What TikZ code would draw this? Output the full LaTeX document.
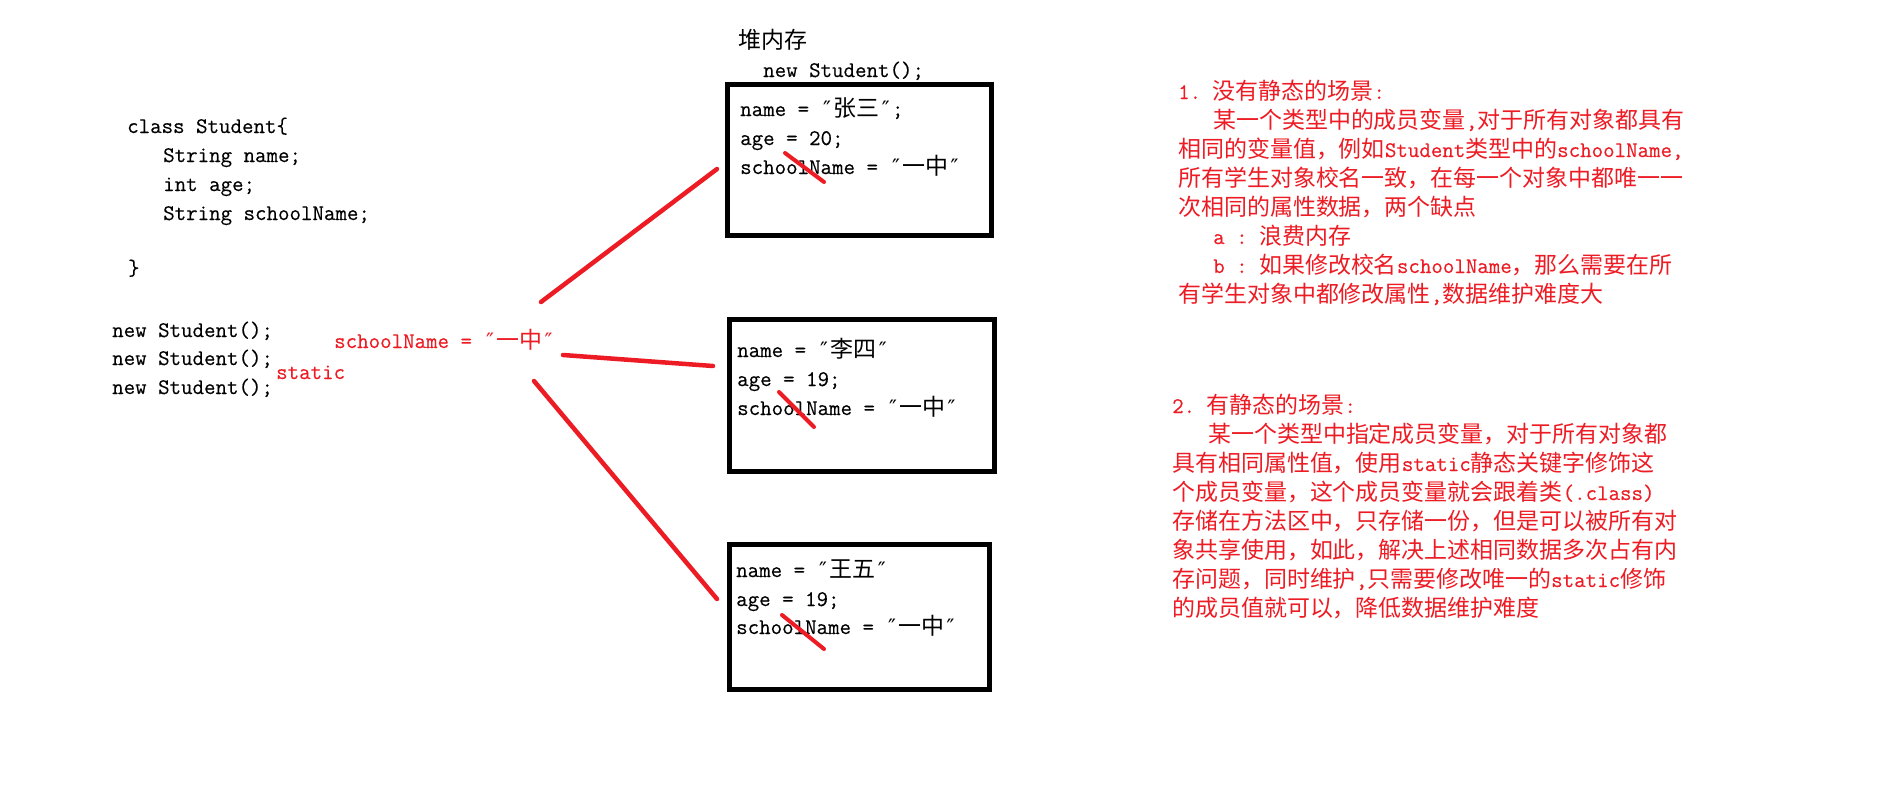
\documentclass[tikz,border=0pt]{standalone}
\usepackage{fontspec}
\setmonofont{lmmono12-regular.otf}[FakeBold=0.3]
\newfontfamily\cjk[Scale=1.03]{Noto Sans CJK SC}
\newfontfamily\qf[Scale=0.95]{DejaVu Sans Mono}
\XeTeXinterchartokenstate=1
\chardef\cjkcls=7
\newcount\cjkc
\def\setcjkrange#1#2{\cjkc=#1\relax\loop\XeTeXcharclass\cjkc=\cjkcls\relax\ifnum\cjkc<#2\relax\advance\cjkc by 1\relax\repeat}
\setcjkrange{"3000}{"303F}
\setcjkrange{"4E00}{"9FFF}
\setcjkrange{"FF00}{"FFEF}
\XeTeXinterchartoks 0 \cjkcls = {\cjk}
\XeTeXinterchartoks 4095 \cjkcls = {\cjk}
\XeTeXinterchartoks \cjkcls 0 = {\ttfamily}
\XeTeXinterchartoks \cjkcls 4095 = {\ttfamily}
\newcommand\dq{\hbox{\qf ″}}
\definecolor{myred}{RGB}{237,28,36}
\begin{document}
\begin{tikzpicture}[x=1pt,y=-1pt,
  txt/.style={anchor=base west, inner sep=0pt, font=\ttfamily\fontsize{22.3}{29}\selectfont},
  rtxt/.style={txt, text=myred},
  box/.style={draw=black, line width=5pt, inner sep=0pt},
  link/.style={draw=myred, line width=4.5pt, line cap=round},
  strike/.style={draw=myred, line width=4pt, line cap=round}]
\useasboundingbox[fill=white] (0,0) rectangle (1895,787);

% class definition
\node[txt] (c1) at (127,133) {class Student\{};
\node[txt] (c2) at (163,162) {String name;};
\node[txt] (c3) at (163,191) {int age;};
\node[txt] (c4) at (163,220) {String schoolName;};
\node[txt] (c5) at (128,275) {\}};
\node[txt] (n1) at (112,337) {new Student();};
\node[txt] (n2) at (112,365) {new Student();};
\node[txt] (n3) at (112,394) {new Student();};
\node[rtxt] (sn) at (334,348) {schoolName = \dq 一中\dq};
\node[rtxt] (st) at (276,379) {static};

% heap
\node[txt] (heap) at (738,48) {堆内存};
\node[txt] (hnew) at (763,77) {new Student();};

\node[box, minimum width=264pt, minimum height=151pt] (box1) at (859,159.5) {};
\node[box, minimum width=265pt, minimum height=152pt] (box2) at (861.5,395) {};
\node[box, minimum width=260pt, minimum height=145pt] (box3) at (859,616.5) {};

\node[txt] (a1) at (740,116) {name = \dq 张三\dq;};
\node[txt] (a2) at (740,145) {age = 20;};
\node[txt] (a3) at (740,174) {schoolName = \dq 一中\dq};
\node[txt] (b1) at (737,357) {name = \dq 李四\dq};
\node[txt] (b2) at (737,386) {age = 19;};
\node[txt] (b3) at (737,415) {schoolName = \dq 一中\dq};
\node[txt] (d1) at (736,577) {name = \dq 王五\dq};
\node[txt] (d2) at (736,606) {age = 19;};
\node[txt] (d3) at (736,634) {schoolName = \dq 一中\dq};

% strikes over the per-object field
\draw[strike] (785,153) -- (824,182);
\draw[strike] (779,392) -- (814,427);
\draw[strike] (782,615) -- (824,649);

% links from shared static value to objects
\coordinate (s1) at (541,302);
\coordinate (s2) at (563,355);
\coordinate (s3) at (534,381);
\coordinate (e1) at (717,169);
\coordinate (e2) at (713,366);
\coordinate (e3) at (717,599);
\draw[link] (s1) -- (e1);
\draw[link] (s2) -- (e2);
\draw[link] (s3) -- (e3);

% notes, part 1
\node[rtxt] (p1a) at (1178,99) {1. 没有静态的场景:};
\node[rtxt] (p1b) at (1213,128) {某一个类型中的成员变量,对于所有对象都具有};
\node[rtxt] (p1c) at (1178,157) {相同的变量值，例如Student类型中的schoolName,};
\node[rtxt] (p1d) at (1178,186) {所有学生对象校名一致，在每一个对象中都唯一一};
\node[rtxt] (p1e) at (1178,215) {次相同的属性数据，两个缺点};
\node[rtxt] (p1f) at (1213,244) {a : 浪费内存};
\node[rtxt] (p1g) at (1213,273) {b : 如果修改校名schoolName，那么需要在所};
\node[rtxt] (p1h) at (1178,302) {有学生对象中都修改属性,数据维护难度大};

% notes, part 2
\node[rtxt] (p2a) at (1172,413) {2. 有静态的场景:};
\node[rtxt] (p2b) at (1208,442) {某一个类型中指定成员变量，对于所有对象都};
\node[rtxt] (p2c) at (1172,471) {具有相同属性值，使用static静态关键字修饰这};
\node[rtxt] (p2d) at (1172,500) {个成员变量，这个成员变量就会跟着类(.class)};
\node[rtxt] (p2e) at (1172,529) {存储在方法区中，只存储一份，但是可以被所有对};
\node[rtxt] (p2f) at (1172,558) {象共享使用，如此，解决上述相同数据多次占有内};
\node[rtxt] (p2g) at (1172,587) {存问题，同时维护,只需要修改唯一的static修饰};
\node[rtxt] (p2h) at (1172,616) {的成员值就可以，降低数据维护难度};
\end{tikzpicture}
\end{document}
